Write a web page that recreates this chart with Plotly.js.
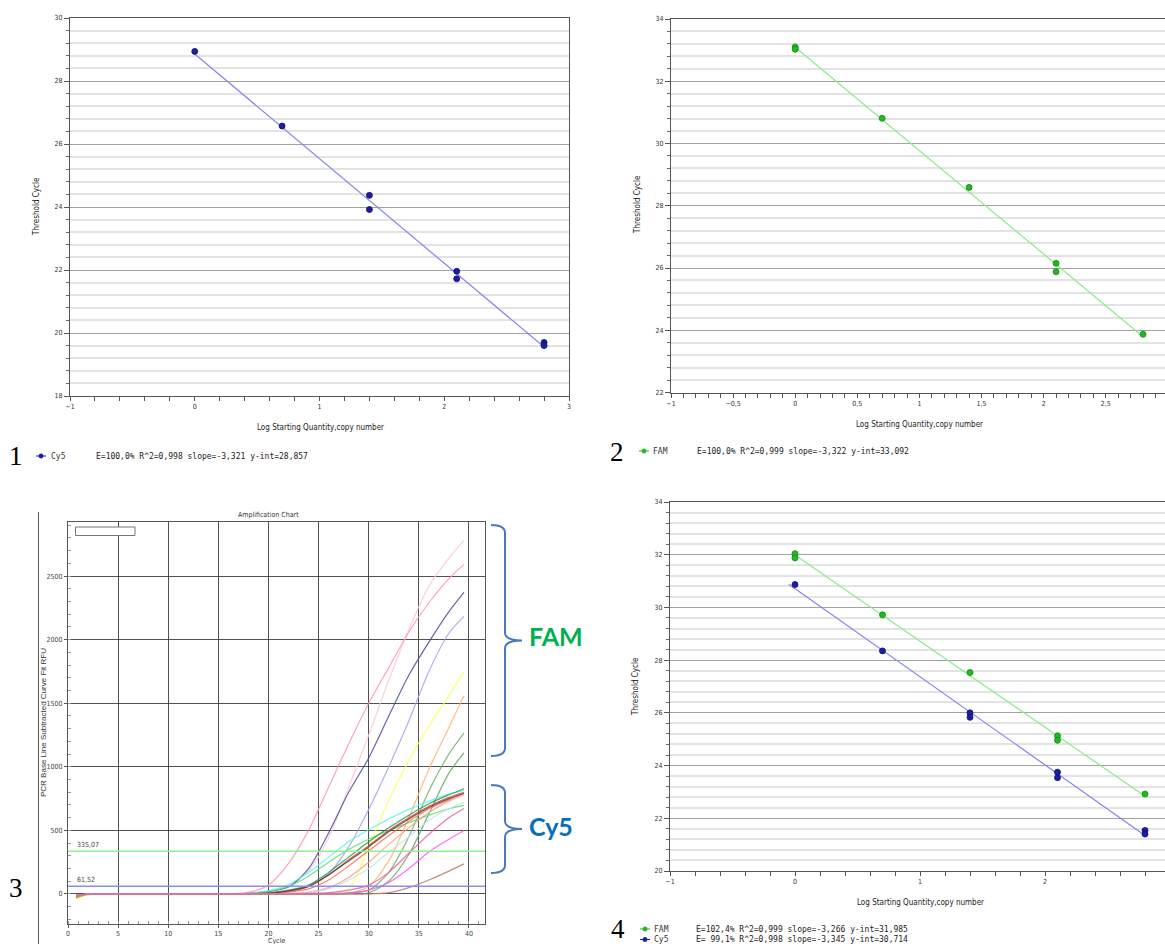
<!DOCTYPE html>
<html>
<head>
<meta charset="utf-8">
<script src="https://cdn.plot.ly/plotly-3.0.1.min.js"></script>
<style>
  html, body { margin: 0; padding: 0; background: #ffffff; }
  #chart { width: 1165px; height: 944px; }
</style>
</head>
<body>
<div id="chart"></div>
<script>
// ---------------- DATA ----------------
// Panel 1: Cy5 standard curve
const p1CyX = [0, 0.7, 1.4, 1.4, 2.1, 2.1, 2.8, 2.8];
const p1CyY = [28.94, 26.57, 24.37, 23.92, 21.96, 21.72, 19.70, 19.60];
const p1FitX = [0, 2.8];
const p1FitY = [28.857, 19.558];

// Panel 2: FAM standard curve
const p2FamX = [0, 0, 0.7, 1.4, 2.1, 2.1, 2.8];
const p2FamY = [33.10, 33.03, 30.81, 28.59, 26.15, 25.88, 23.87];
const p2FitX = [0, 2.8];
const p2FitY = [33.092, 23.790];

// Panel 4: FAM + Cy5 standard curves
const p4FamX = [0, 0, 0.7, 1.4, 2.1, 2.1, 2.8];
const p4FamY = [32.04, 31.88, 29.72, 27.53, 25.13, 24.96, 22.92];
const p4FamFitX = [0, 2.8];
const p4FamFitY = [31.985, 22.840];
const p4CyX = [0, 0.7, 1.4, 1.4, 2.1, 2.1, 2.8, 2.8];
const p4CyY = [30.87, 28.35, 26.00, 25.83, 23.75, 23.54, 21.54, 21.40];
const p4CyFitX = [-0.05, 2.8];
const p4CyFitY = [30.88, 21.35];

// Panel 3: amplification curves (RFU at each cycle)
const cycles = [0.8, 2, 5, 10, 15, 18, 20, 22, 24, 26, 28, 30, 32, 34, 36, 38, 39.5];
const curveColors = [
  '#ffc4d6', '#ff8fbf', '#4a4aa0', '#a0a0f0', '#ffff55', '#ffb070',
  '#6fb06f', '#5aa85a', '#55f5f5', '#55e070', '#2a9a4a', '#ff3a3a',
  '#ff6a3a', '#444444', '#ff9a80', '#c4e0ee', '#f05aa0', '#ff55ff', '#c07a6a'
];
const curveRFU = [
  [-30, -5, 0, 0, 0, 5, 20, 60, 180, 440, 840, 1250, 1680, 2080, 2420, 2640, 2780],
  [-10, 0, 0, 0, 0, 12, 70, 240, 500, 840, 1180, 1500, 1780, 2060, 2290, 2480, 2592],
  [-10, 0, 0, 0, 0, 5, 20, 55, 200, 480, 800, 1070, 1400, 1720, 1980, 2220, 2372],
  [-5, 0, 0, 0, 0, 0, 5, 15, 60, 160, 370, 665, 1000, 1360, 1750, 2050, 2183],
  [-40, -5, 0, 0, 0, 0, 0, 0, 0, 5, 40, 370, 740, 1050, 1320, 1560, 1750],
  [-30, -5, 0, 0, 0, 0, 0, 0, 0, 5, 5, 60, 260, 600, 980, 1310, 1558],
  [-20, 0, 0, 0, 0, 0, 0, 0, 0, 0, 10, 30, 170, 450, 810, 1100, 1265],
  [-10, 0, 0, 0, 0, 0, 0, 0, 0, 0, 0, 10, 100, 310, 630, 950, 1110],
  [-20, 0, 0, 0, 0, 5, 25, 75, 170, 290, 410, 505, 590, 665, 730, 785, 815],
  [-30, 0, 0, 0, 0, 5, 20, 60, 140, 250, 350, 430, 500, 560, 620, 670, 697],
  [-10, 0, 0, 0, 0, 0, 10, 30, 70, 170, 290, 410, 520, 620, 710, 780, 828],
  [-20, 0, 0, 0, 0, 0, 5, 25, 60, 150, 270, 380, 500, 600, 690, 760, 800],
  [-30, 0, 0, 0, 0, 0, 0, 15, 40, 110, 220, 340, 460, 570, 670, 740, 790],
  [-10, 0, 0, 0, 0, 0, 5, 25, 60, 150, 260, 370, 490, 590, 680, 750, 790],
  [-20, 0, 0, 0, 0, 0, 0, 5, 15, 50, 130, 250, 390, 520, 640, 730, 780],
  [-10, 0, 0, 0, 0, 0, 0, 5, 10, 40, 110, 200, 330, 450, 580, 670, 720],
  [-20, 0, 0, 0, 0, 0, 0, 0, 5, 10, 30, 70, 170, 320, 470, 600, 673],
  [-10, 0, 0, 0, 0, 0, 0, 0, 0, 0, 5, 30, 90, 200, 330, 430, 500],
  [-10, 0, 0, 0, 0, 0, 0, 0, 0, 0, 0, 0, 10, 50, 110, 180, 237]
];
const thrFAM = 335.07;
const thrCy5 = 61.52;
const thrFAMLabel = '335,07';
const thrCy5Label = '61,52';

const legend1 = 'E=100,0% R^2=0,998 slope=-3,321 y-int=28,857';
const legend2 = 'E=100,0% R^2=0,999 slope=-3,322 y-int=33,092';
const legend4a = 'E=102,4% R^2=0,999 slope=-3,266 y-int=31,985';
const legend4b = 'E= 99,1% R^2=0,998 slope=-3,345 y-int=30,714';

// ---------------- HELPERS ----------------
const W = 1165, H = 944;
const X = p => p / W;
const Y = p => 1 - p / H;
const FONT = 'DejaVu Sans Condensed, Liberation Sans Narrow, Arial, sans-serif';
const MONO = 'DejaVu Sans Mono, Liberation Mono, monospace';
const SERIF = 'Liberation Serif, DejaVu Serif, serif';
const BLUE_PT = '#1c1ca6', BLUE_LN = '#8484f4';
const GREEN_PT = '#22b822', GREEN_LN = '#88ec88';

function stdY(domain, range, mirror) {
  return {
    domain, range, tick0: 0, dtick: 2, ticks: 'outside', ticklen: 5, tickwidth: 1,
    tickcolor: '#555', showline: true, linecolor: '#555', linewidth: 1, mirror,
    showgrid: true, gridcolor: '#a2a2a2', gridwidth: 1, zeroline: false,
    minor: { tick0: 0, dtick: 0.4, ticks: 'outside', ticklen: 3, tickcolor: '#666',
             showgrid: true, gridcolor: '#e3e3e3', gridwidth: 2 },
    tickfont: { size: 7, color: '#333', family: FONT }, fixedrange: true
  };
}
function stdX(domain, range, dtick, minorDtick) {
  return {
    domain, range, tick0: 0, dtick, ticks: 'outside', ticklen: 4, tickwidth: 1,
    tickcolor: '#555', showline: true, linecolor: '#555', linewidth: 1, mirror: true,
    showgrid: false, zeroline: false,
    minor: { tick0: 0, dtick: minorDtick, ticks: 'outside', ticklen: 4, tickcolor: '#555' },
    tickfont: { size: 7, color: '#333', family: FONT }, fixedrange: true
  };
}
function ann(text, px, py, o) {
  return Object.assign({
    text, x: X(px), y: Y(py), xref: 'paper', yref: 'paper', showarrow: false,
    xanchor: 'center', yanchor: 'middle',
    font: { size: 8, color: '#222', family: FONT }
  }, o || {});
}
function legendIcon(px, py, color) {
  return [
    { type: 'line', xref: 'paper', yref: 'paper', x0: X(px - 5), x1: X(px + 5), y0: Y(py), y1: Y(py),
      line: { color, width: 1 } },
    { type: 'circle', xref: 'paper', yref: 'paper', x0: X(px - 2.2), x1: X(px + 2.2), y0: Y(py - 2.2), y1: Y(py + 2.2),
      fillcolor: color, line: { color, width: 0.5 } }
  ];
}
function bracePath(xL, yTop, yTip, yBot) {
  const xm = xL + 14, xt = xL + 31;
  const P = (a, b) => X(a).toFixed(5) + ',' + Y(b).toFixed(5);
  return 'M' + P(xL, yTop) + ' Q' + P(xm, yTop) + ' ' + P(xm, yTop + 8) +
    ' L' + P(xm, yTip - 8) + ' Q' + P(xm, yTip) + ' ' + P(xt, yTip) +
    ' Q' + P(xm, yTip) + ' ' + P(xm, yTip + 8) +
    ' L' + P(xm, yBot - 8) + ' Q' + P(xm, yBot) + ' ' + P(xL, yBot);
}

// ---------------- TRACES ----------------
const traces = [];
function pts(x, y, color, edge, xa, ya) {
  return { x, y, xaxis: xa, yaxis: ya, type: 'scatter', mode: 'markers', hoverinfo: 'skip',
    marker: { color, size: 6, line: { color: edge, width: 0.8 } } };
}
function fit(x, y, color, xa, ya) {
  return { x, y, xaxis: xa, yaxis: ya, type: 'scatter', mode: 'lines', hoverinfo: 'skip',
    line: { color, width: 1.2 } };
}
traces.push(fit(p1FitX, p1FitY, BLUE_LN, 'x', 'y'));
traces.push(pts(p1CyX, p1CyY, BLUE_PT, '#10106a', 'x', 'y'));
traces.push(fit(p2FitX, p2FitY, GREEN_LN, 'x2', 'y2'));
traces.push(pts(p2FamX, p2FamY, GREEN_PT, '#128a12', 'x2', 'y2'));
curveRFU.forEach((vals, i) => {
  traces.push({ x: cycles, y: vals, xaxis: 'x3', yaxis: 'y3', type: 'scatter', mode: 'lines',
    hoverinfo: 'skip', line: { color: curveColors[i], width: 1.2, shape: 'spline', smoothing: 0.8 },
    opacity: 0.85 });
});
traces.push(fit(p4FamFitX, p4FamFitY, GREEN_LN, 'x4', 'y4'));
traces.push(fit(p4CyFitX, p4CyFitY, BLUE_LN, 'x4', 'y4'));
traces.push(pts(p4FamX, p4FamY, GREEN_PT, '#128a12', 'x4', 'y4'));
traces.push(pts(p4CyX, p4CyY, BLUE_PT, '#10106a', 'x4', 'y4'));

// ---------------- LAYOUT ----------------
const GRID3 = 'rgba(50,50,50,0.85)';
const layout = {
  width: W, height: H, margin: { l: 0, r: 0, t: 0, b: 0, pad: 0 },
  paper_bgcolor: '#ffffff', plot_bgcolor: '#ffffff', showlegend: false,
  separators: ', ',
  font: { family: FONT, size: 8, color: '#222' },

  xaxis: Object.assign(stdX([X(70), X(569)], [-1, 3], 1, 0.2), { anchor: 'y' }),
  yaxis: Object.assign(stdY([Y(396), Y(18)], [18, 30], true), { anchor: 'x' }),

  xaxis2: Object.assign(stdX([X(671), 1], [-1, 2.977], 0.5, 0.1), { anchor: 'y2' }),
  yaxis2: Object.assign(stdY([Y(392.5), Y(19)], [22, 34], false), { anchor: 'x2' }),

  xaxis4: Object.assign(stdX([X(670), 1], [-1, 2.96], 1, 0.2), { anchor: 'y4' }),
  yaxis4: Object.assign(stdY([Y(871), Y(502)], [20, 34], false), { anchor: 'x4' }),

  xaxis3: {
    domain: [X(68), X(485)], range: [0, 41.6], anchor: 'y3', tick0: 0, dtick: 5,
    ticks: 'outside', ticklen: 3, tickcolor: '#555', showline: true, linecolor: '#555',
    linewidth: 1, mirror: true, showgrid: true, gridcolor: GRID3, gridwidth: 1, zeroline: false,
    minor: { tick0: 0, dtick: 1, ticks: 'inside', ticklen: 3, tickcolor: '#999' },
    tickfont: { size: 7, color: '#444', family: FONT }, fixedrange: true
  },
  yaxis3: {
    domain: [Y(924), Y(522)], range: [-236, 2925], anchor: 'x3', tick0: 0, dtick: 500,
    ticks: 'outside', ticklen: 3, tickcolor: '#555', showline: true, linecolor: '#555',
    linewidth: 1, mirror: true, showgrid: true, gridcolor: GRID3, gridwidth: 1, zeroline: false,
    minor: { tick0: 0, dtick: 100, ticks: 'inside', ticklen: 3, tickcolor: '#999' },
    tickfont: { size: 7, color: '#444', family: FONT }, fixedrange: true
  },

  shapes: [
    { type: 'line', xref: 'x3 domain', yref: 'y3', x0: 0, x1: 1, y0: thrFAM, y1: thrFAM,
      line: { color: '#8cf08c', width: 1.5 } },
    { type: 'line', xref: 'x3 domain', yref: 'y3', x0: 0, x1: 1, y0: thrCy5, y1: thrCy5,
      line: { color: '#8c8cf6', width: 1.5 } },
    { type: 'rect', xref: 'paper', yref: 'paper', x0: X(75.5), x1: X(135), y0: Y(535.5), y1: Y(527),
      line: { color: '#777', width: 1 }, fillcolor: '#ffffff' },
    { type: 'line', xref: 'paper', yref: 'paper', x0: X(38.5), x1: X(38.5), y0: Y(512), y1: 0,
      line: { color: '#555', width: 1 } },
    { type: 'path', xref: 'paper', yref: 'paper', path: bracePath(491, 525, 640.5, 756),
      line: { color: '#4a78c0', width: 2 } },
    { type: 'path', xref: 'paper', yref: 'paper', path: bracePath(491, 785, 829, 873),
      line: { color: '#4a78c0', width: 2 } }
  ].concat(legendIcon(41, 456, BLUE_PT), legendIcon(644, 451, GREEN_PT),
           legendIcon(645, 929, GREEN_PT), legendIcon(645, 939.5, BLUE_PT)),

  annotations: [
    ann('Threshold Cycle', 36, 207, { textangle: -90 }),
    ann('Log Starting Quantity,copy number', 320, 427),
    ann('1', 16, 456, { font: { size: 27, family: SERIF, color: '#000' } }),
    ann('Cy5', 49, 456, { xanchor: 'left', font: { size: 8, family: MONO, color: '#333' } }),
    ann(legend1, 94, 456, { xanchor: 'left', font: { size: 8, family: MONO, color: '#222' } }),
    ann('Threshold Cycle', 637, 205, { textangle: -90 }),
    ann('Log Starting Quantity,copy number', 919, 424),
    ann('2', 617, 452, { font: { size: 27, family: SERIF, color: '#000' } }),
    ann('FAM', 651, 451, { xanchor: 'left', font: { size: 8, family: MONO, color: '#333' } }),
    ann(legend2, 695, 451, { xanchor: 'left', font: { size: 8, family: MONO, color: '#222' } }),
    ann('Amplification Chart', 268, 515, { font: { size: 7, color: '#333', family: FONT } }),
    ann('PCR Base Line Subtracted Curve Fit RFU', 43, 723, { textangle: -90, font: { size: 8, color: '#333', family: 'Liberation Sans, Arial, sans-serif' } }),
    ann('Cycle', 276, 941, { font: { size: 7, color: '#333', family: FONT } }),
    { text: thrFAMLabel, x: 0.7, y: thrFAM, xref: 'x3', yref: 'y3', showarrow: false,
      xanchor: 'left', yanchor: 'bottom', font: { size: 7, color: '#444', family: FONT } },
    { text: thrCy5Label, x: 0.7, y: thrCy5, xref: 'x3', yref: 'y3', showarrow: false,
      xanchor: 'left', yanchor: 'bottom', font: { size: 7, color: '#444', family: FONT } },
    ann('3', 16, 888, { font: { size: 27, family: SERIF, color: '#000' } }),
    ann('<b>FAM</b>', 527, 636, { xanchor: 'left', font: { size: 25, color: '#00b050', family: 'Lato, Open Sans, sans-serif' } }),
    ann('<b>Cy5</b>', 527, 826, { xanchor: 'left', font: { size: 25, color: '#0070c0', family: 'Lato, Open Sans, sans-serif' } }),
    ann('Threshold Cycle', 635, 687, { textangle: -90 }),
    ann('Log Starting Quantity,copy number', 920, 902),
    ann('4', 618, 929, { font: { size: 27, family: SERIF, color: '#000' } }),
    ann('FAM', 652, 929, { xanchor: 'left', font: { size: 8, family: MONO, color: '#333' } }),
    ann('Cy5', 652, 939.5, { xanchor: 'left', font: { size: 8, family: MONO, color: '#333' } }),
    ann(legend4a, 694, 929, { xanchor: 'left', font: { size: 8, family: MONO, color: '#222' } }),
    ann(legend4b, 694, 939.5, { xanchor: 'left', font: { size: 8, family: MONO, color: '#222' } })
  ]
};

Plotly.newPlot('chart', traces, layout, { staticPlot: true, displayModeBar: false });
</script>
</body>
</html>
